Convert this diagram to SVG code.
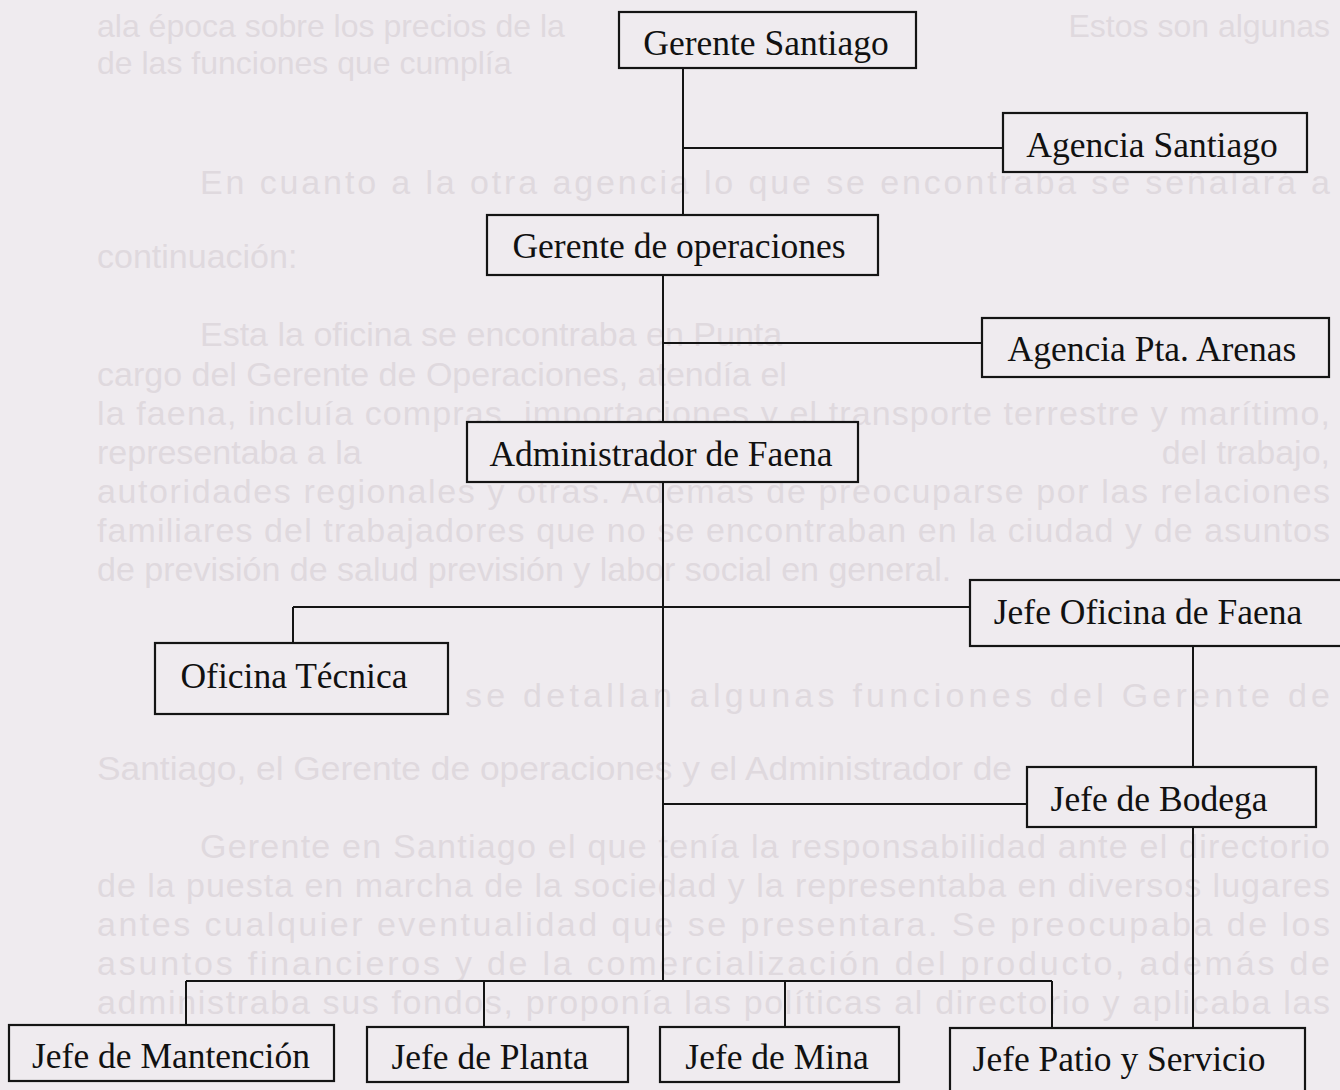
<svg xmlns="http://www.w3.org/2000/svg" width="1340" height="1090" viewBox="0 0 1340 1090">
<style>
.bg{font-family:"Liberation Sans",Arial,sans-serif;font-size:34px;fill:#dfd9de}
.bg2{font-size:32px}
.box{fill:#efebef;stroke:#141414;stroke-width:2.2}
.lbl{font-family:"Liberation Serif","Times New Roman",serif;font-size:35.5px;fill:#111;text-anchor:middle}
.con{stroke:#141414;stroke-width:2;fill:none}
</style>
<rect width="1340" height="1090" fill="#efebef"/>
<g id="background-text">
<text class="bg bg2" x="97" y="37">ala época sobre los precios de la</text>
<text class="bg bg2" x="1330" y="37" text-anchor="end">Estos son algunas</text>
<text class="bg bg2" x="97" y="74">de las funciones que cumplía</text>
<text class="bg" x="200" y="194" textLength="1130" lengthAdjust="spacing">En cuanto a la otra agencia lo que se encontraba se señalará a</text>
<text class="bg" x="97" y="268">continuación:</text>
<text class="bg" x="200" y="346">Esta la oficina se encontraba en Punta</text>
<text class="bg" x="97" y="386">cargo del Gerente de Operaciones, atendía el</text>
<text class="bg" x="97" y="425" textLength="1233" lengthAdjust="spacing">la faena, incluía compras, importaciones y el transporte terrestre y marítimo,</text>
<text class="bg" x="97" y="464">representaba a la</text>
<text class="bg" x="1330" y="464" text-anchor="end">del trabajo,</text>
<text class="bg" x="97" y="503" textLength="1233" lengthAdjust="spacing">autoridades regionales y otras. Además de preocuparse por las relaciones</text>
<text class="bg" x="97" y="542" textLength="1233" lengthAdjust="spacing">familiares del trabajadores que no se encontraban en la ciudad y de asuntos</text>
<text class="bg" x="97" y="581">de previsión de salud previsión y labor social en general.</text>
<text class="bg" x="465" y="707" textLength="865" lengthAdjust="spacing">se detallan algunas funciones del Gerente de</text>
<text class="bg" x="97" y="780" textLength="915" lengthAdjust="spacingAndGlyphs">Santiago, el Gerente de operaciones y el Administrador de</text>
<text class="bg" x="200" y="858" textLength="1130" lengthAdjust="spacing">Gerente en Santiago el que tenía la responsabilidad ante el directorio</text>
<text class="bg" x="97" y="897" textLength="1233" lengthAdjust="spacing">de la puesta en marcha de la sociedad y la representaba en diversos lugares</text>
<text class="bg" x="97" y="936" textLength="1233" lengthAdjust="spacing">antes cualquier eventualidad que se presentara. Se preocupaba de los</text>
<text class="bg" x="97" y="975" textLength="1233" lengthAdjust="spacing">asuntos financieros y de la comercialización del producto, además de</text>
<text class="bg" x="97" y="1014" textLength="1233" lengthAdjust="spacing">administraba sus fondos, proponía las políticas al directorio y aplicaba las</text>
</g>
<g id="connectors">
<path class="con" d="M683 68 V215"/>
<path class="con" d="M683 148 H1003"/>
<path class="con" d="M663 275 V422"/>
<path class="con" d="M663 343 H982"/>
<path class="con" d="M663 482 V981"/>
<path class="con" d="M293 607 H970"/>
<path class="con" d="M293 607 V643"/>
<path class="con" d="M1193 646 V767"/>
<path class="con" d="M663 804 H1027"/>
<path class="con" d="M1193 827 V1028"/>
<path class="con" d="M186 981 H1052"/>
<path class="con" d="M186 981 V1025"/>
<path class="con" d="M484 981 V1027"/>
<path class="con" d="M785 981 V1027"/>
<path class="con" d="M1052 981 V1028"/>
</g>
<g id="gerente-santiago">
<rect class="box" x="619" y="12" width="297" height="56"/>
<text class="lbl" x="766" y="55">Gerente Santiago</text>
</g>
<g id="agencia-santiago">
<rect class="box" x="1003" y="113" width="304" height="59"/>
<text class="lbl" x="1152" y="157">Agencia Santiago</text>
</g>
<g id="gerente-operaciones">
<rect class="box" x="487" y="215" width="391" height="60"/>
<text class="lbl" x="679" y="258">Gerente de operaciones</text>
</g>
<g id="agencia-pta-arenas">
<rect class="box" x="982" y="318" width="347" height="59"/>
<text class="lbl" x="1152" y="361">Agencia Pta. Arenas</text>
</g>
<g id="administrador-faena">
<rect class="box" x="467" y="422" width="391" height="60"/>
<text class="lbl" x="661" y="466">Administrador de Faena</text>
</g>
<g id="jefe-oficina-faena">
<rect class="box" x="970" y="580" width="380" height="66"/>
<text class="lbl" x="1148" y="624">Jefe Oficina de Faena</text>
</g>
<g id="oficina-tecnica">
<rect class="box" x="155" y="643" width="293" height="71"/>
<text class="lbl" x="294" y="688">Oficina Técnica</text>
</g>
<g id="jefe-bodega">
<rect class="box" x="1027" y="767" width="289" height="60"/>
<text class="lbl" x="1159" y="811">Jefe de Bodega</text>
</g>
<g id="jefe-mantencion">
<rect class="box" x="9" y="1025" width="325" height="56"/>
<text class="lbl" x="171" y="1068">Jefe de Mantención</text>
</g>
<g id="jefe-planta">
<rect class="box" x="367" y="1027" width="261" height="55"/>
<text class="lbl" x="490" y="1069">Jefe de Planta</text>
</g>
<g id="jefe-mina">
<rect class="box" x="660" y="1027" width="239" height="55"/>
<text class="lbl" x="777" y="1069">Jefe de Mina</text>
</g>
<g id="jefe-patio-servicio">
<rect class="box" x="950" y="1028" width="355" height="70"/>
<text class="lbl" x="1119" y="1071">Jefe Patio y Servicio</text>
</g>
</svg>
